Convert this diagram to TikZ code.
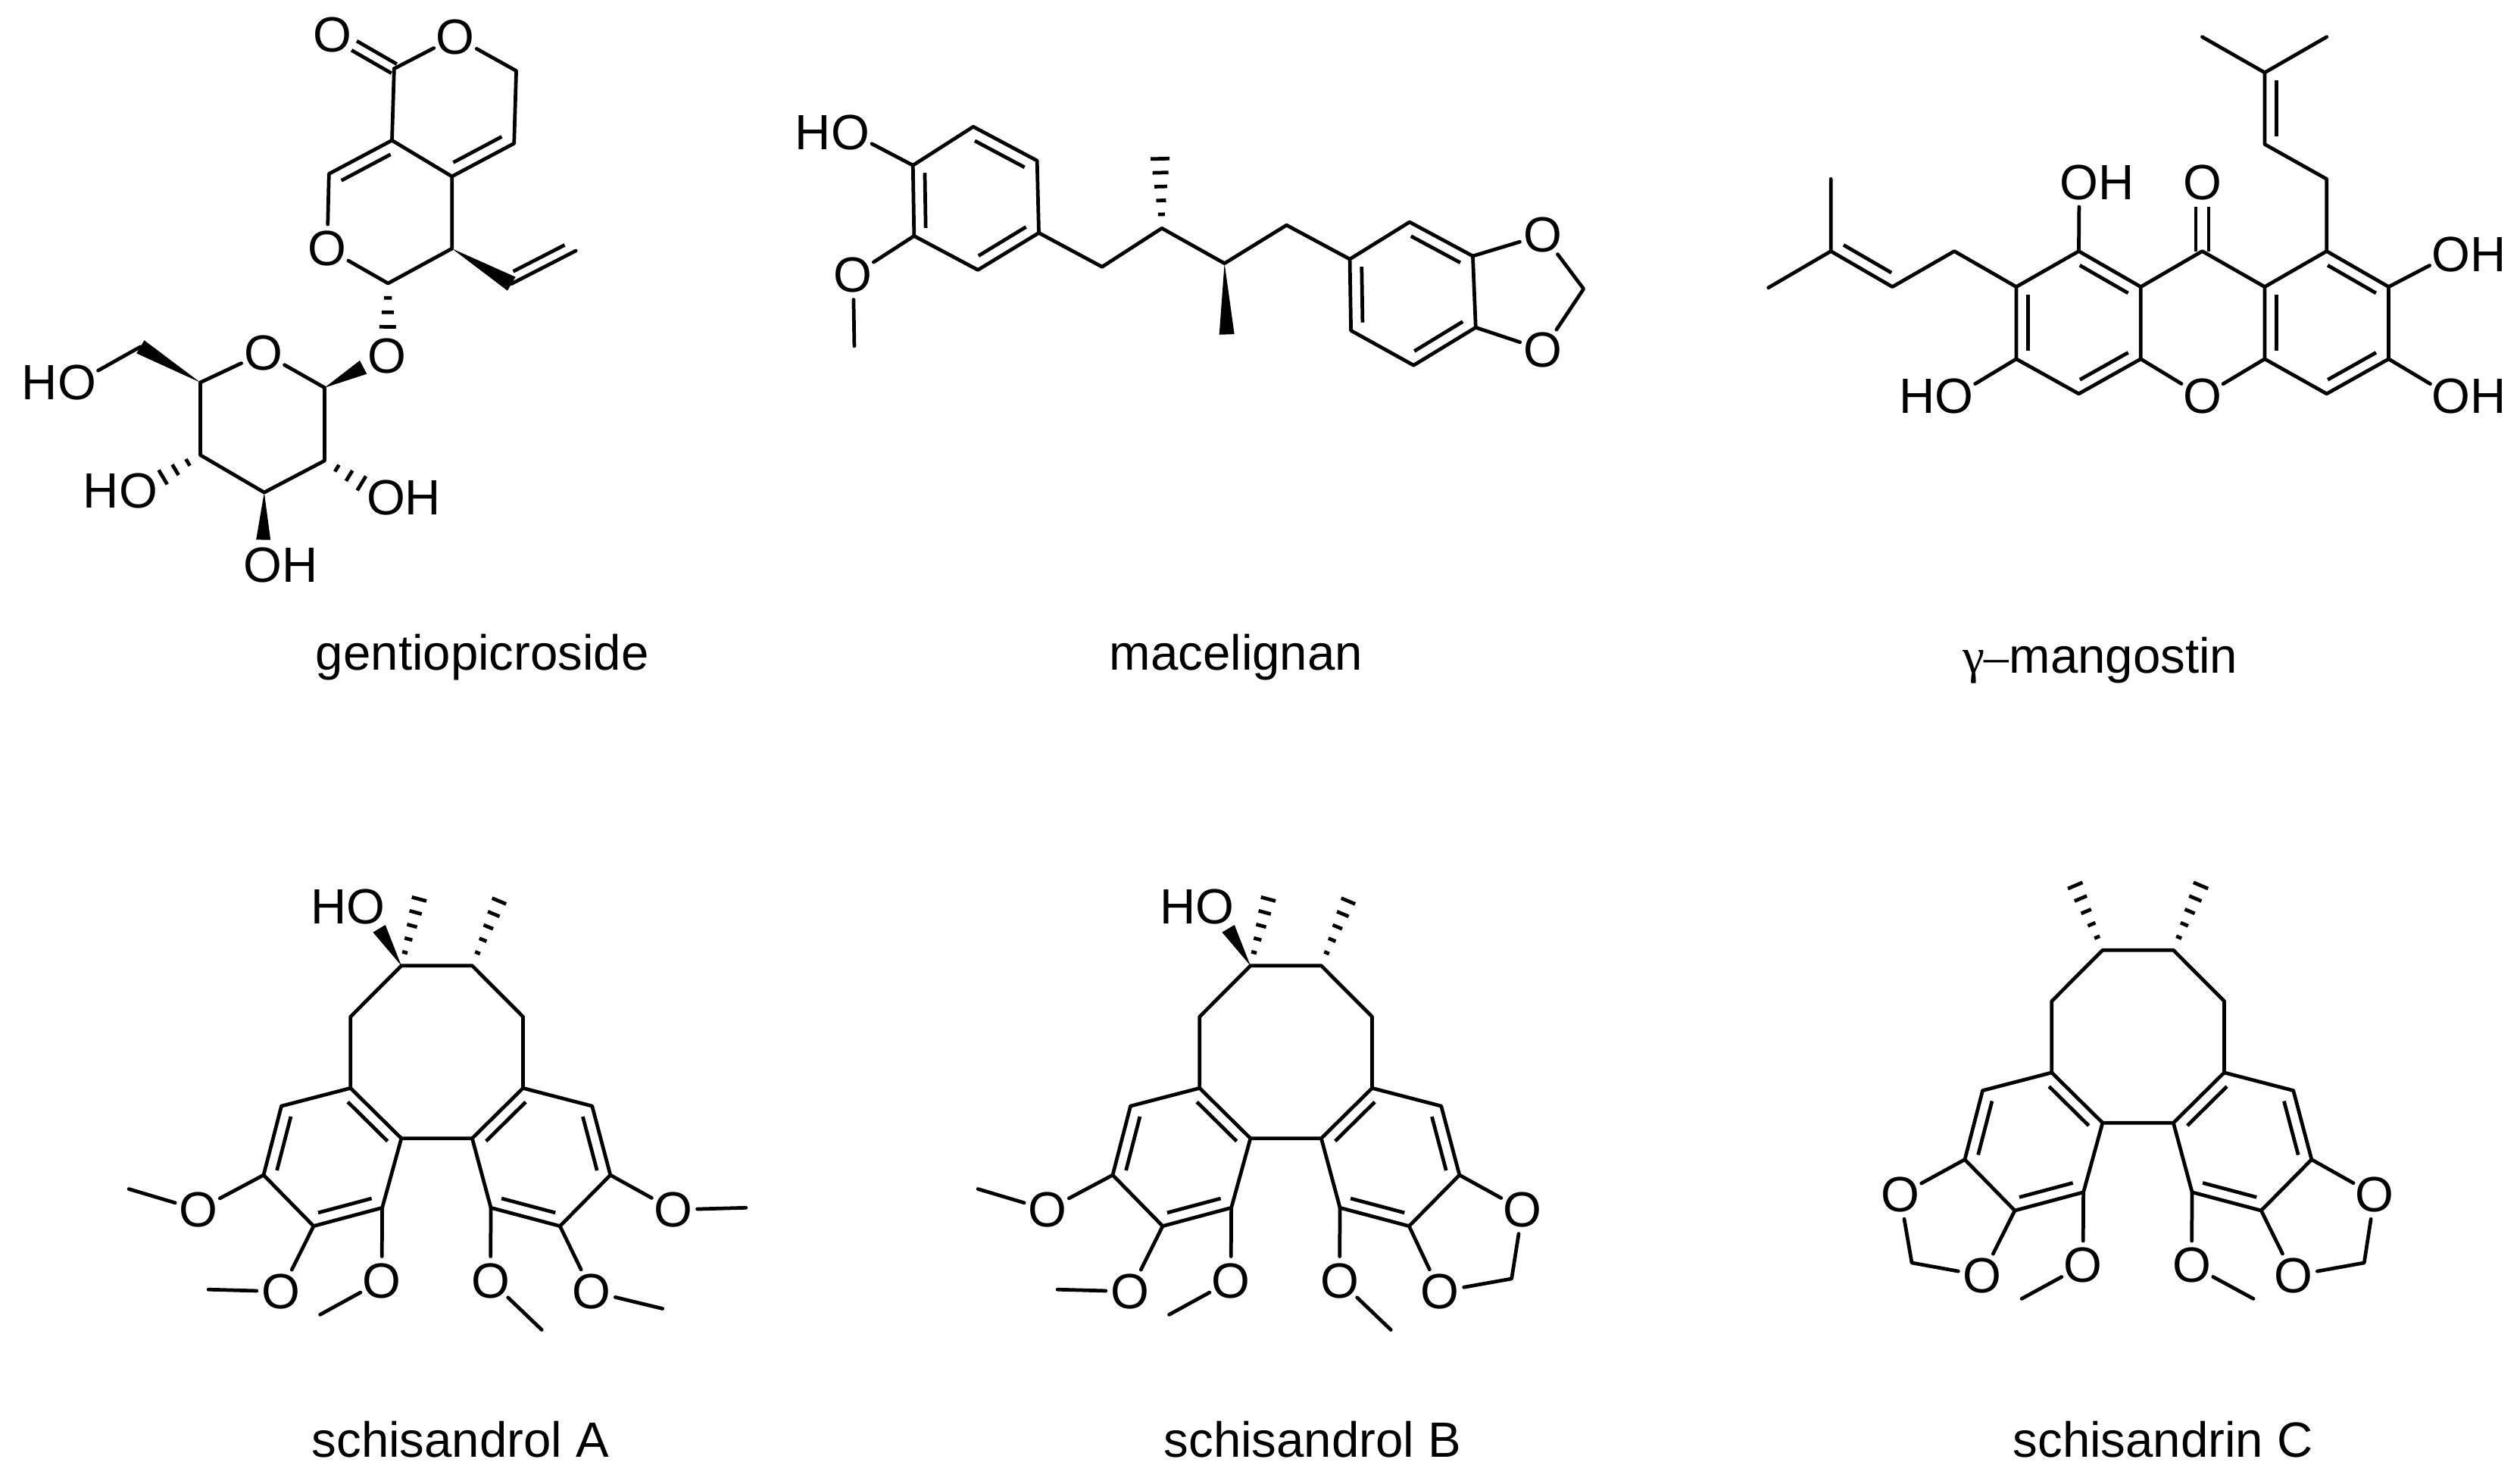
\documentclass[tikz,border=0pt]{standalone}
\usepackage{fontspec}
\setmainfont{Liberation Sans}
\newfontfamily\symfont{Liberation Serif}
\usetikzlibrary{calc}
\tikzset{
  bond/.style={line width=1.35pt,line cap=round,line join=round,black},
  innerline/.style={line width=1.35pt,line cap=butt,black},
  hashline/.style={line width=1.35pt,line cap=butt,black},
  atomlabel/.style={circle,inner sep=-0.6pt,minimum size=.62cm,font=\fontsize{18.6}{22}\selectfont},
  namelabel/.style={anchor=base,inner sep=0pt,font=\fontsize{18.6}{22}\selectfont},
}
\newcommand\oat[2]{\node[atomlabel] (#1) at (#2) {O};}
\newcommand\hleft[2]{\node[atomlabel] (h#2) at ($(#2)+(-.49cm,0cm)$) {H};}
\newcommand\hright[2]{\node[atomlabel] (h#2) at ($(#2)+(.49cm,0cm)$) {H};}
\newcommand\innerbond[2]{\draw[innerline] ($(#1)!.11!(#2)!.155cm!90:(#2)$) -- ($(#1)!.89!(#2)!.155cm!90:(#2)$);}
\newcommand\centerdbl[3]{%
  \draw[innerline] ($(#1)!#3!90:(#2)$) -- ($(#2)!#3!-90:(#1)$);
  \draw[innerline] ($(#1)!#3!-90:(#2)$) -- ($(#2)!#3!90:(#1)$);}
\newcommand\wedgebond[3]{\fill[black] (#1) -- ($(#2)!#3!90:(#1)$) -- ($(#2)!#3!-90:(#1)$) -- cycle;}
\newcommand\hashbond[4]{%
  \foreach \i in {1,...,#3}{%
    \pgfmathsetmacro\ff{\i/#3}%
    \pgfmathsetmacro\hh{#4*(0.2+0.8*\i/#3)}%
    \draw[hashline] ($(#1)!\ff!(#2)!\hh cm!90:(#1)$) -- ($(#1)!\ff!(#2)!\hh cm!-90:(#1)$);
  }}
\newcommand\schicore{%
  \coordinate (e1) at (697,275); \coordinate (e2) at (860,275);
  \coordinate (e3) at (977,403); \coordinate (e4) at (977,582);
  \coordinate (e5) at (860,708); \coordinate (e6) at (697,708);
  \coordinate (e7) at (580,582); \coordinate (e8) at (580,403);
  \coordinate (a3) at (653,882); \coordinate (a4) at (495,928);
  \coordinate (a5) at (380,800); \coordinate (a6) at (421,627);
  \coordinate (b3) at (903,882); \coordinate (b4) at (1062,928);
  \coordinate (b5) at (1178,800); \coordinate (b6) at (1136,627);
  \draw[bond] (e1)--(e2)--(e3)--(e4)--(e5)--(e6)--(e7)--(e8)--cycle;
  \draw[bond] (e7)--(a6)--(a5)--(a4)--(a3)--(e6);
  \draw[bond] (e4)--(b6)--(b5)--(b4)--(b3)--(e5);
  \innerbond{e6}{e7} \innerbond{a4}{a3} \innerbond{a6}{a5}
  \innerbond{e4}{e5} \innerbond{b3}{b4} \innerbond{b5}{b6}
  \oat{om3}{652,1065} \oat{om4}{902,1065}
  \draw[bond] (a3)--(om3); \draw[bond] (b3)--(om4);
}
\newcommand\schileftome{%
  \oat{om5}{230,887} \oat{om6}{420,1092}
  \coordinate (me5) at (70,835); \coordinate (me6) at (253,1087);
  \draw[bond] (a5)--(om5)--(me5); \draw[bond] (a4)--(om6)--(me6);
}
\newcommand\schitop{%
  \oat{oh}{615,127} \hleft{hh}{oh}
  \coordinate (wt) at (646,182); \coordinate (h1t) at (738,108); \coordinate (h2t) at (922,113);
  \wedgebond{e1}{wt}{.095cm}
  \hashbond{e1}{h1t}{5}{.1}
  \hashbond{e2}{h2t}{5}{.1}
}
\begin{document}
\begin{tikzpicture}
\useasboundingbox (0,0) rectangle (33.27,-19.55);

% gentiopicroside
\begin{scope}[x=0.0057398cm,y=-0.0057398cm]
  \oat{go1}{765,80} \oat{go2}{1048,85} \oat{go3}{753,572} \oat{go4}{890,820} \oat{go5}{606,812}
  \oat{go6}{177,880} \oat{go7}{318,1130} \oat{go8}{888,1145} \oat{go9}{605,1300}
  \hleft{g1}{go6} \hleft{g2}{go7} \hright{g3}{go8} \hright{g4}{go9}
  \coordinate (c1) at (907,158); \coordinate (c2) at (1188,163); \coordinate (c3) at (1183,330);
  \coordinate (c4) at (1040,406); \coordinate (c5) at (902,323); \coordinate (c6) at (757,400);
  \coordinate (c7) at (893,652); \coordinate (c8) at (1040,572);
  \coordinate (v1) at (1177,653); \coordinate (v2) at (1325,577);
  \coordinate (s1) at (747,892); \coordinate (s5) at (461,880); \coordinate (s4) at (461,1047);
  \coordinate (s3) at (608,1133); \coordinate (s2) at (747,1060); \coordinate (ch) at (323,798);
  \coordinate (ce) at (815,105); \coordinate (w1) at (836,845); \coordinate (w2) at (606,1242);
  \coordinate (hg1) at (892,752); \coordinate (hs4) at (375,1098); \coordinate (hs2) at (832,1112);
  \draw[bond] (go2)--(c1); \draw[bond] (go2)--(c2)--(c3)--(c4)--(c5)--(c1);
  \draw[bond] (c5)--(c6)--(go3); \draw[bond] (go3)--(c7)--(c8)--(c4);
  \draw[bond] (v1)--(v2);
  \draw[bond] (go5)--(s1)--(s2)--(s3)--(s4)--(s5)--(go5);
  \draw[bond] (go6)--(ch);
  \centerdbl{c1}{ce}{.07cm}
  \innerbond{c4}{c3} \innerbond{c5}{c6}
  \draw[innerline] ($(v1)!.1!(v2)!.135cm!90:(v2)$) -- ($(v1)!.9!(v2)!.135cm!90:(v2)$);
  \wedgebond{c8}{v1}{.105cm}
  \wedgebond{s1}{w1}{.1cm}
  \wedgebond{s5}{ch}{.1cm}
  \wedgebond{s3}{w2}{.095cm}
  \hashbond{c7}{hg1}{3}{.11}
  \hashbond{s4}{hs4}{3}{.11}
  \hashbond{s2}{hs2}{3}{.11}
  \node[namelabel] (l1) at (1110,1541) {gentiopicroside};
\end{scope}

% macelignan
\begin{scope}[shift={(10cm,-1cm)},x=0.00765306cm,y=-0.00510204cm]
  \oat{mo1}{160,147} \hleft{m1}{mo1}
  \oat{mo2}{165,517} \oat{mo3}{1354,412} \oat{mo4}{1354,710}
  \coordinate (a1) at (268,232); \coordinate (a2) at (372,132); \coordinate (a3) at (482,220);
  \coordinate (a4) at (485,407); \coordinate (a5) at (380,503); \coordinate (a6) at (270,415);
  \coordinate (b1) at (594,495); \coordinate (b2) at (697,395); \coordinate (b3) at (805,486); \coordinate (b4) at (912,387);
  \coordinate (c1) at (1021,475); \coordinate (c2) at (1124,379); \coordinate (c3) at (1233,467);
  \coordinate (c4) at (1238,652); \coordinate (c5) at (1131,750); \coordinate (c6) at (1023,660);
  \coordinate (me) at (167,700); \coordinate (ch2) at (1424,552);
  \coordinate (hm) at (694,215); \coordinate (wm) at (809,670);
  \draw[bond] (a1)--(a2)--(a3)--(a4)--(a5)--(a6)--cycle;
  \draw[bond] (a1)--(mo1); \draw[bond] (a6)--(mo2)--(me);
  \draw[bond] (a4)--(b1)--(b2)--(b3)--(b4)--(c1);
  \draw[bond] (c1)--(c2)--(c3)--(c4)--(c5)--(c6)--cycle;
  \draw[bond] (c3)--(mo3)--(ch2)--(mo4)--(c4);
  \innerbond{a3}{a2} \innerbond{a5}{a4} \innerbond{a1}{a6}
  \innerbond{c3}{c2} \innerbond{c5}{c4} \innerbond{c1}{c6}
  \hashbond{b2}{hm}{5}{.125}
  \wedgebond{b3}{wm}{.1cm}
  \node[namelabel] (l2) at (825,1540) {macelignan};
\end{scope}

% gamma-mangostin
\begin{scope}[shift={(23cm,0cm)},x=0.00654974cm,y=-0.0057398cm]
  \oat{ko1}{928,420} \oat{ko2}{928,912} \oat{ko3}{680,420} \oat{ko4}{428,912} \oat{ko5}{1430,585} \oat{ko6}{1430,912}
  \hright{k3}{ko3} \hleft{k4}{ko4} \hright{k5}{ko5} \hright{k6}{ko6}
  \coordinate (l1) at (553,660); \coordinate (l2) at (679,578); \coordinate (l3) at (804,660);
  \coordinate (l4) at (804,826); \coordinate (l5) at (679,906); \coordinate (l6) at (553,826);
  \coordinate (cc) at (928,578); \coordinate (ce) at (928,475);
  \coordinate (r1) at (1054,660); \coordinate (r2) at (1179,578); \coordinate (r3) at (1304,660);
  \coordinate (r4) at (1304,826); \coordinate (r5) at (1179,906); \coordinate (r6) at (1054,826);
  \coordinate (p1) at (428,578); \coordinate (p2) at (303,660); \coordinate (p3) at (179,578);
  \coordinate (p4) at (179,412); \coordinate (p5) at (53,662);
  \coordinate (q1) at (1179,412); \coordinate (q2) at (1054,332); \coordinate (q3) at (1054,167);
  \coordinate (q4) at (928,85); \coordinate (q5) at (1179,85);
  \draw[bond] (l1)--(l2)--(l3)--(l4)--(l5)--(l6)--cycle;
  \draw[bond] (r1)--(r2)--(r3)--(r4)--(r5)--(r6)--cycle;
  \draw[bond] (l3)--(cc)--(r1);
  \draw[bond] (l4)--(ko2)--(r6);
  \draw[bond] (l2)--(ko3); \draw[bond] (l6)--(ko4); \draw[bond] (r3)--(ko5); \draw[bond] (r4)--(ko6);
  \draw[bond] (l1)--(p1)--(p2)--(p3)--(p4); \draw[bond] (p3)--(p5);
  \draw[bond] (r2)--(q1)--(q2)--(q3)--(q4); \draw[bond] (q3)--(q5);
  \centerdbl{cc}{ce}{.085cm}
  \innerbond{l3}{l2} \innerbond{l5}{l4} \innerbond{l1}{l6}
  \innerbond{r3}{r2} \innerbond{r5}{r4} \innerbond{r1}{r6}
  \innerbond{p3}{p2} \innerbond{q3}{q2}
  \node[namelabel] (l3b) at (722,1549) {{\symfont γ–}mangostin};
\end{scope}

% schisandrol A
\begin{scope}[shift={(1.3cm,-11.3cm)},x=0.0057398cm,y=-0.00526148cm]
  \schicore \schileftome \schitop
  \oat{om7}{1135,1092} \oat{om8}{1322,887}
  \coordinate (me3) at (510,1150); \coordinate (me4) at (1020,1188);
  \coordinate (me7) at (1298,1135); \coordinate (me8) at (1490,882);
  \draw[bond] (om3)--(me3); \draw[bond] (om4)--(me4);
  \draw[bond] (b4)--(om7)--(me7); \draw[bond] (b5)--(om8)--(me8);
  \node[namelabel] (l4) at (833,1507) {schisandrol A};
\end{scope}

% schisandrol B
\begin{scope}[shift={(12.51cm,-11.3cm)},x=0.0057398cm,y=-0.00526148cm]
  \schicore \schileftome \schitop
  \oat{om7}{1133,1092} \oat{om8}{1323,887}
  \coordinate (me3) at (510,1150); \coordinate (me4) at (1020,1188); \coordinate (ch2) at (1298,1060);
  \draw[bond] (om3)--(me3); \draw[bond] (om4)--(me4);
  \draw[bond] (b4)--(om7)--(ch2)--(om8)--(b5);
  \node[namelabel] (l5) at (840,1507) {schisandrol B};
\end{scope}

% schisandrin C
\begin{scope}[shift={(23.76cm,-11.095cm)},x=0.0057398cm,y=-0.00526148cm]
  \schicore
  \oat{om5}{231,889} \oat{om6}{420,1091} \oat{om7}{1136,1091} \oat{om8}{1323,889}
  \coordinate (ch1) at (258,1059); \coordinate (ch2) at (1299,1059);
  \coordinate (me3) at (511,1149); \coordinate (me4) at (1044,1149);
  \coordinate (h1t) at (634,113); \coordinate (h2t) at (923,113);
  \draw[bond] (om3)--(me3); \draw[bond] (om4)--(me4);
  \draw[bond] (a5)--(om5)--(ch1)--(om6)--(a4);
  \draw[bond] (b4)--(om7)--(ch2)--(om8)--(b5);
  \hashbond{e1}{h1t}{5}{.105}
  \hashbond{e2}{h2t}{5}{.105}
  \node[namelabel] (l6) at (836,1546) {schisandrin C};
\end{scope}
\end{tikzpicture}
\end{document}
